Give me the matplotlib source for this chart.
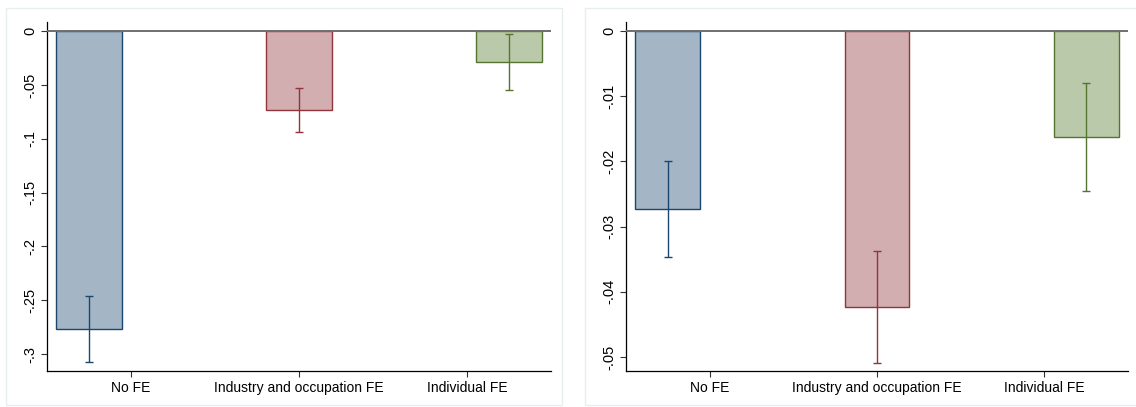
import numpy as np
import matplotlib
matplotlib.use("Agg")
import matplotlib.pyplot as plt
from matplotlib.patches import Rectangle

plt.rcParams['font.family'] = ['Liberation Sans', 'DejaVu Sans']

# estimates and 95% CI, one panel per outcome
groups = ['No FE', 'Industry and occupation FE', 'Individual FE']

coef_left = [-0.2767, -0.0734, -0.0284]
ci_lo_left = [-0.3077, -0.0941, -0.0547]
ci_hi_left = [-0.2460, -0.0528, -0.0031]
yticks_left = [0, -0.05, -0.1, -0.15, -0.2, -0.25, -0.3]
ylabels_left = ['0', '-.05', '-.1', '-.15', '-.2', '-.25', '-.3']

coef_right = [-0.02733, -0.04226, -0.01627]
ci_lo_right = [-0.03474, -0.05092, -0.02456]
ci_hi_right = [-0.01990, -0.03373, -0.00800]
yticks_right = [0, -0.01, -0.02, -0.03, -0.04, -0.05]
ylabels_right = ['0', '-.01', '-.02', '-.03', '-.04', '-.05']

line_cols = ['#1a476f', '#90353b', '#55752f']
fill_cols = ['#a4b5c5', '#d3aeb1', '#bbc9ab']

W, H = 1136, 407
fig = plt.figure(figsize=(W / 100, H / 100), dpi=100, facecolor='white')


def px(x0, y0, x1, y1):
    # pixel box (top-left origin) -> figure fraction rect
    return [x0 / W, 1 - y1 / H, (x1 - x0) / W, (y1 - y0) / H]


# faint frames round each graph
for (x0, y0, x1, y1) in [(6, 8, 562, 405), (585, 8, 1140, 405)]:
    r = px(x0, y0, x1, y1)
    fig.add_artist(Rectangle((r[0], r[1]), r[2], r[3], transform=fig.transFigure,
                             fill=False, edgecolor='#e6eef0', linewidth=1.0))


def panel(rect, coef, lo, hi, yt, yl, ylim):
    ax = fig.add_axes(rect)
    pos = np.arange(1, len(coef) + 1)
    for i in range(len(coef)):
        ax.bar(pos[i], coef[i], width=0.31, color=fill_cols[i],
               edgecolor=line_cols[i], linewidth=1.0, zorder=2)
        ax.errorbar(pos[i], coef[i], yerr=[[coef[i] - lo[i]], [hi[i] - coef[i]]],
                    fmt='none', ecolor=line_cols[i], elinewidth=1.0,
                    capsize=3, capthick=1.0, zorder=3)
    ax.axhline(0, color='#6f6f6f', linewidth=1.4, zorder=4)
    ax.set_xlim(0.8, 3.2)
    ax.set_ylim(*ylim)
    ax.set_xticks([1.2, 2.0, 2.8])
    ax.set_xticklabels(groups, fontsize=10)
    ax.set_yticks(yt)
    ax.set_yticklabels(yl, fontsize=10.5, rotation=90, va='center')
    ax.tick_params(direction='out', length=4, width=0.8, color='#333333', pad=3)
    for s in ['top', 'right']:
        ax.spines[s].set_visible(False)
    for s in ['left', 'bottom']:
        ax.spines[s].set_color('black')
        ax.spines[s].set_linewidth(0.9)
    return ax


panel(px(47, 22, 551, 371), coef_left, ci_lo_left, ci_hi_left,
      yticks_left, ylabels_left, (-0.3157, 0.0084))
panel(px(626, 22, 1128, 371), coef_right, ci_lo_right, ci_hi_right,
      yticks_right, ylabels_right, (-0.05215, 0.00138))

fig.savefig('out.png', dpi=100, facecolor='white')
